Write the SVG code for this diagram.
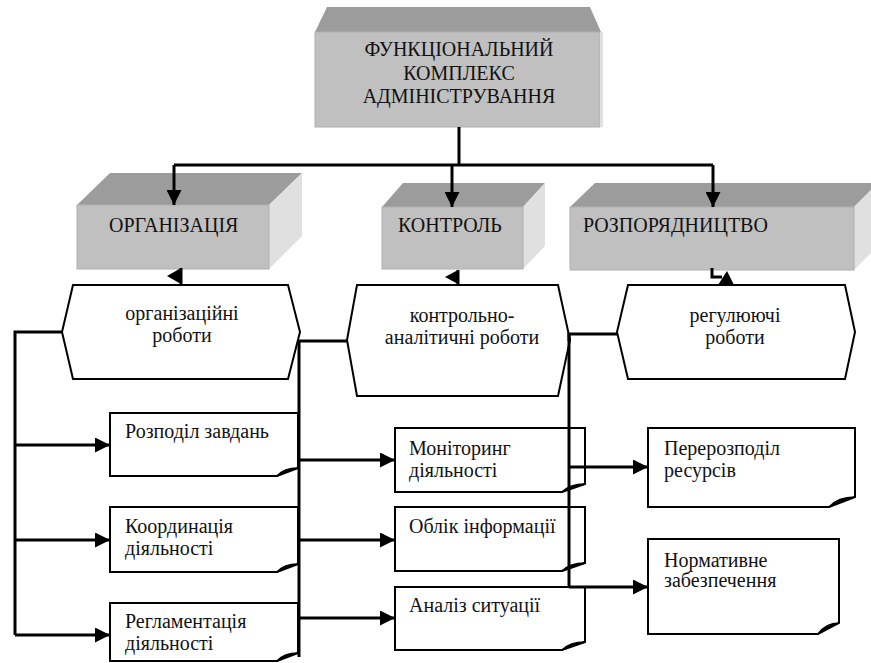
<svg xmlns="http://www.w3.org/2000/svg" width="871" height="663" viewBox="0 0 871 663">
<defs>
<style>
.top{fill:#9c9c9c}
.front{fill:#c0c0c0;stroke:#b0b0b0;stroke-width:1}
.side{fill:#e0e0e0}
.hex{fill:#fff;stroke:#000;stroke-width:2}
.note{fill:#fff;stroke:#000;stroke-width:2}
.fold{fill:#c8c8c8;stroke:#000;stroke-width:1.5}
text{font-family:'Liberation Serif','Times New Roman',serif;font-size:20px;fill:#111}
.c{text-anchor:middle}
.ln{fill:none;stroke:#000;stroke-width:3}
</style>
<marker id="ah" viewBox="0 0 10 10" refX="10" refY="5" markerWidth="5" markerHeight="5" orient="auto" markerUnits="strokeWidth"><path d="M0,0 L10,5 L0,10 Z" fill="#000"/></marker>
</defs>
<rect width="871" height="663" fill="#fff"/>

<g id="admin">
<polygon class="top" points="327,7 590,7 601,32 315,32"/>
<rect class="front" x="315" y="32" width="285" height="95"/>
<polygon class="side" points="600,32 603,32 603,127 600,127"/>
<text class="c" x="459" y="56">ФУНКЦІОНАЛЬНИЙ</text>
<text class="c" x="459" y="80">КОМПЛЕКС</text>
<text class="c" x="459" y="103">АДМІНІСТРУВАННЯ</text>
</g>

<g id="org">
<polygon class="top" points="110,173 302,173 269,205 77,205"/>
<polygon class="side" points="269,205 302,173 302,236 269,269"/>
<rect class="front" x="77" y="205" width="192" height="64"/>
<text x="109" y="232">ОРГАНІЗАЦІЯ</text>
</g>

<g id="control">
<polygon class="top" points="403,183 545,183 523,207 382,207"/>
<polygon class="side" points="523,207 545,183 545,246 523,269"/>
<rect class="front" x="382" y="207" width="141" height="62"/>
<text x="398" y="232">КОНТРОЛЬ</text>
</g>

<g id="dispose">
<polygon class="top" points="595,183 878,183 854,207 570,207"/>
<polygon class="side" points="854,207 878,183 878,246 854,270"/>
<rect class="front" x="570" y="207" width="284" height="63"/>
<text x="583" y="232">РОЗПОРЯДНИЦТВО</text>
</g>

<g id="orgwork">
<polygon class="hex" points="73,285 288,285 300,332 288,379 73,379 62,332"/>
<text class="c" x="182" y="320">організаційні</text>
<text class="c" x="182" y="342">роботи</text>
</g>

<g id="ctrlwork">
<polygon class="hex" points="357,285 558,285 570,340 558,396 357,396 347,340"/>
<text class="c" x="462" y="322">контрольно-</text>
<text class="c" x="462" y="344">аналітичні роботи</text>
</g>

<g id="regwork">
<polygon class="hex" points="628,285 845,285 855,332 845,379 628,379 617,332"/>
<text class="c" x="735" y="322">регулюючі</text>
<text class="c" x="735" y="344">роботи</text>
</g>

<g id="n1">
<path class="note" d="M110,413 H298 V468 L277,476 H110 Z"/>
<path class="fold" d="M277,476 Q284,468 298,468 Q288,470 277,476 Z"/>
<text x="125" y="438">Розподіл завдань</text>
</g>
<g id="n2">
<path class="note" d="M110,507 H298 V564 L277,572 H110 Z"/>
<path class="fold" d="M277,572 Q284,564 298,564 Q288,566 277,572 Z"/>
<text x="125" y="533">Координація</text>
<text x="125" y="555">діяльності</text>
</g>
<g id="n3">
<path class="note" d="M110,603 H298 V653 L277,661 H110 Z"/>
<path class="fold" d="M277,661 Q284,653 298,653 Q288,655 277,661 Z"/>
<text x="125" y="628">Регламентація</text>
<text x="125" y="650">діяльності</text>
</g>
<g id="n4">
<path class="note" d="M395,428 H585 V484 L562,492 H395 Z"/>
<path class="fold" d="M562,492 Q570,484 585,484 Q574,486 562,492 Z"/>
<text x="409" y="455">Моніторинг</text>
<text x="409" y="477">діяльності</text>
</g>
<g id="n5">
<path class="note" d="M395,507 H585 V563 L562,571 H395 Z"/>
<path class="fold" d="M562,571 Q570,563 585,563 Q574,565 562,571 Z"/>
<text x="409" y="533">Облік інформації</text>
</g>
<g id="n6">
<path class="note" d="M395,587 H585 V642 L562,650 H395 Z"/>
<path class="fold" d="M562,650 Q570,642 585,642 Q574,644 562,650 Z"/>
<text x="409" y="612">Аналіз ситуації</text>
</g>
<g id="n7">
<path class="note" d="M648,428 H855 V497 L829,507 H648 Z"/>
<path class="fold" d="M829,507 Q838,497 855,497 Q842,499 829,507 Z"/>
<text x="664" y="455">Перерозподіл</text>
<text x="664" y="477">ресурсів</text>
</g>
<g id="n8">
<path class="note" d="M648,539 H839 V623 L818,634 H648 Z"/>
<path class="fold" d="M818,634 Q826,623 839,623 Q828,626 818,634 Z"/>
<text x="664" y="567">Нормативне</text>
<text x="664" y="587">забезпечення</text>
</g>

<g id="connectors">
<path class="ln" d="M459,127 V165"/>
<path class="ln" d="M174,165 H713"/>
<path class="ln" d="M174,165 V205" marker-end="url(#ah)"/>
<path class="ln" d="M452,165 V207" marker-end="url(#ah)"/>
<path class="ln" d="M713,165 V207" marker-end="url(#ah)"/>
<path class="ln" d="M181,268 V285"/>
<polygon points="181,268 167,276 181,284" fill="#000"/>
<path class="ln" d="M458,270 V285"/>
<polygon points="458,270 445,277 458,284" fill="#000"/>
<path class="ln" d="M712,268 V277 H722"/>
<polygon points="718,285 734,285 727,271" fill="#000"/>
<path class="ln" d="M62,332 H15 V635"/>
<path class="ln" d="M15,445 H110" marker-end="url(#ah)"/>
<path class="ln" d="M15,540 H110" marker-end="url(#ah)"/>
<path class="ln" d="M15,635 H110" marker-end="url(#ah)"/>
<path class="ln" d="M348,341 H299 V657"/>
<path class="ln" d="M299,460 H395" marker-end="url(#ah)"/>
<path class="ln" d="M299,540 H395" marker-end="url(#ah)"/>
<path class="ln" d="M299,618 H395" marker-end="url(#ah)"/>
<path class="ln" d="M569,341 V334 H618"/>
<path class="ln" d="M569,334 V587"/>
<path class="ln" d="M569,467 H648" marker-end="url(#ah)"/>
<path class="ln" d="M569,587 H648" marker-end="url(#ah)"/>
</g>
</svg>
